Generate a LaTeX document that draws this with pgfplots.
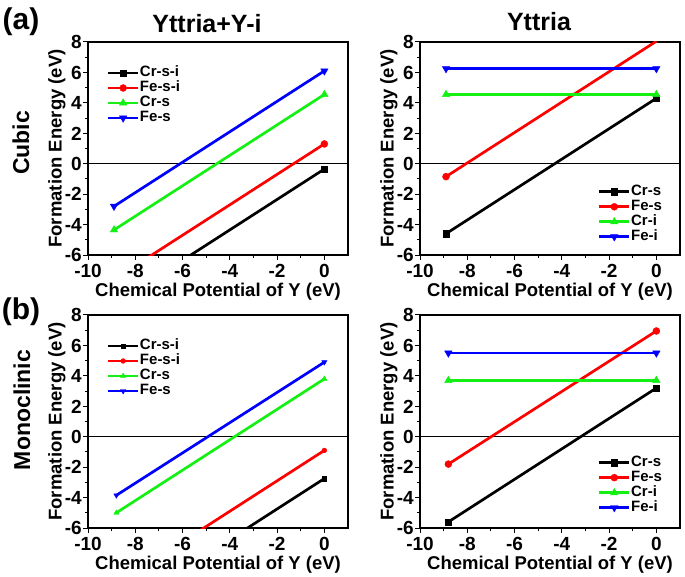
\documentclass[border=0pt]{standalone}
\usepackage{fontspec}
\setmainfont{Liberation Sans}
\usepackage{pgfplots}
\pgfplotsset{compat=1.18}
\definecolor{cred}{RGB}{255,0,0}
\definecolor{cgrn}{RGB}{20,240,20}
\definecolor{cblu}{RGB}{0,0,255}
\pgfplotsset{
  myax/.style={
    scale only axis, width=260pt, height=213pt,
    xmin=-10, xmax=1, ymin=-6, ymax=8,
    xtick={-10,-8,-6,-4,-2,0}, ytick={-6,-4,-2,0,2,4,6,8},
    xticklabels={-10,-8,-6,-4,-2,0},
    yticklabels={-6,-4,-2,0,2,4,6,8},
    minor x tick num=1, minor y tick num=1,
    tick align=outside, tick pos=left,
    major tick length=5pt, minor tick length=3pt,
    axis line style={line width=1.2pt},
    every tick/.style={line width=1pt, black},
    xticklabel style={font=\fontsize{19}{19}\selectfont\bfseries, inner sep=0.5pt, text height=13.5pt, text depth=0pt, yshift=-3pt},
    yticklabel style={font=\fontsize{19}{19}\selectfont\bfseries, inner sep=1pt, text height=13.5pt, text depth=0pt},
    xlabel style={font=\fontsize{18.5}{18.5}\selectfont\bfseries, inner sep=1pt, at={(axis description cs:0.5,-0.172)}, anchor=center},
    ylabel style={font=\fontsize{18.5}{18.5}\selectfont\bfseries, inner sep=1pt, at={(axis description cs:-0.12,0.5)}, anchor=center},
    xlabel={Chemical Potential of Y (eV)},
    ylabel={Formation Energy (eV)},
    clip marker paths=true,
    legend cell align=left,
    legend style={draw=none, fill=none, font=\fontsize{15}{15}\selectfont\bfseries,
      nodes={inner sep=0.5pt, text height=10.5pt, text depth=3.5pt}},
    legend image code/.code={\draw[mark repeat=2,mark phase=2,#1] plot coordinates {(0pt,0pt)(15pt,0pt)(30pt,0pt)};},
  },
  sq/.style={black, line width=2.7pt, mark=square*, mark size=3.2pt, mark options={solid,line width=0.4pt}},
  ci/.style={cred, line width=2.7pt, mark=*, mark size=3.5pt, mark options={solid,line width=0.4pt}},
  tu/.style={cgrn, line width=2.7pt, mark=triangle*, mark size=4.3pt, mark options={solid,line width=0.4pt}},
  td/.style={cblu, line width=2.7pt, mark=triangle*, mark size=4.3pt, mark options={solid,line width=0.4pt,rotate=180}},
}
\begin{document}
\begin{tikzpicture}
\path[use as bounding box] (0pt,0pt) rectangle (685pt,576pt);
% (a) Cubic, Yttria+Y-i
\begin{axis}[myax, at={(88pt,534pt)}, anchor=north west,
  legend style={at={(0.06,0.90)}, anchor=north west}]
\draw[line width=0.8pt] (axis cs:-10,0) -- (axis cs:1,0);
\addplot[sq] coordinates {(-8.9,-9.25) (0,-0.35)};
\addlegendentry{Cr-s-i}
\addplot[ci] coordinates {(-8.9,-7.6) (0,1.3)};
\addlegendentry{Fe-s-i}
\addplot[tu] coordinates {(-8.9,-4.35) (0,4.55)};
\addlegendentry{Cr-s}
\addplot[td] coordinates {(-8.9,-2.8) (0,6.1)};
\addlegendentry{Fe-s}
\end{axis}
% (a) Cubic, Yttria
\begin{axis}[myax, at={(420pt,534pt)}, anchor=north west,
  legend style={at={(0.945,0.04)}, anchor=south east}]
\draw[line width=0.8pt] (axis cs:-10,0) -- (axis cs:1,0);
\addplot[sq] coordinates {(-8.9,-4.6) (0,4.3)};
\addlegendentry{Cr-s}
\addplot[ci] coordinates {(-8.9,-0.85) (0,8.05)};
\addlegendentry{Fe-s}
\addplot[tu] coordinates {(-8.9,4.55) (0,4.55)};
\addlegendentry{Cr-i}
\addplot[td] coordinates {(-8.9,6.25) (0,6.25)};
\addlegendentry{Fe-i}
\end{axis}
% (b) Monoclinic, Yttria+Y-i
\begin{axis}[myax, at={(88pt,261pt)}, anchor=north west,
  legend style={at={(0.06,0.90)}, anchor=north west}]
\draw[line width=0.8pt] (axis cs:-10,0) -- (axis cs:1,0);
\addplot[sq, mark size=2.2pt] coordinates {(-8.8,-11.55) (0,-2.75)};
\addlegendentry{Cr-s-i}
\addplot[ci, mark size=2.4pt] coordinates {(-8.8,-9.7) (0,-0.9)};
\addlegendentry{Fe-s-i}
\addplot[tu, mark size=3pt] coordinates {(-8.8,-5.0) (0,3.8)};
\addlegendentry{Cr-s}
\addplot[td, mark size=3pt] coordinates {(-8.8,-3.85) (0,4.9)};
\addlegendentry{Fe-s}
\end{axis}
% (b) Monoclinic, Yttria
\begin{axis}[myax, at={(420pt,261pt)}, anchor=north west,
  legend style={at={(0.945,0.05)}, anchor=south east}]
\draw[line width=0.8pt] (axis cs:-10,0) -- (axis cs:1,0);
\addplot[sq] coordinates {(-8.8,-5.6) (0,3.2)};
\addlegendentry{Cr-s}
\addplot[ci] coordinates {(-8.8,-1.8) (0,6.95)};
\addlegendentry{Fe-s}
\addplot[tu] coordinates {(-8.8,3.7) (0,3.7)};
\addlegendentry{Cr-i}
\addplot[td] coordinates {(-8.8,5.5) (0,5.5)};
\addlegendentry{Fe-i}
\end{axis}
\node[font=\fontsize{30}{30}\selectfont\bfseries] at (21pt,554pt) {(a)};
\node[font=\fontsize{30}{30}\selectfont\bfseries] at (21pt,264pt) {(b)};
\node[font=\fontsize{25}{25}\selectfont\bfseries] at (207pt,552pt) {Yttria+Y-i};
\node[font=\fontsize{25}{25}\selectfont\bfseries] at (539pt,554pt) {Yttria};
\node[font=\fontsize{23}{23}\selectfont\bfseries, rotate=90] at (21pt,433pt) {Cubic};
\node[font=\fontsize{23}{23}\selectfont\bfseries, rotate=90] at (22pt,166pt) {Monoclinic};
\end{tikzpicture}
\end{document}
